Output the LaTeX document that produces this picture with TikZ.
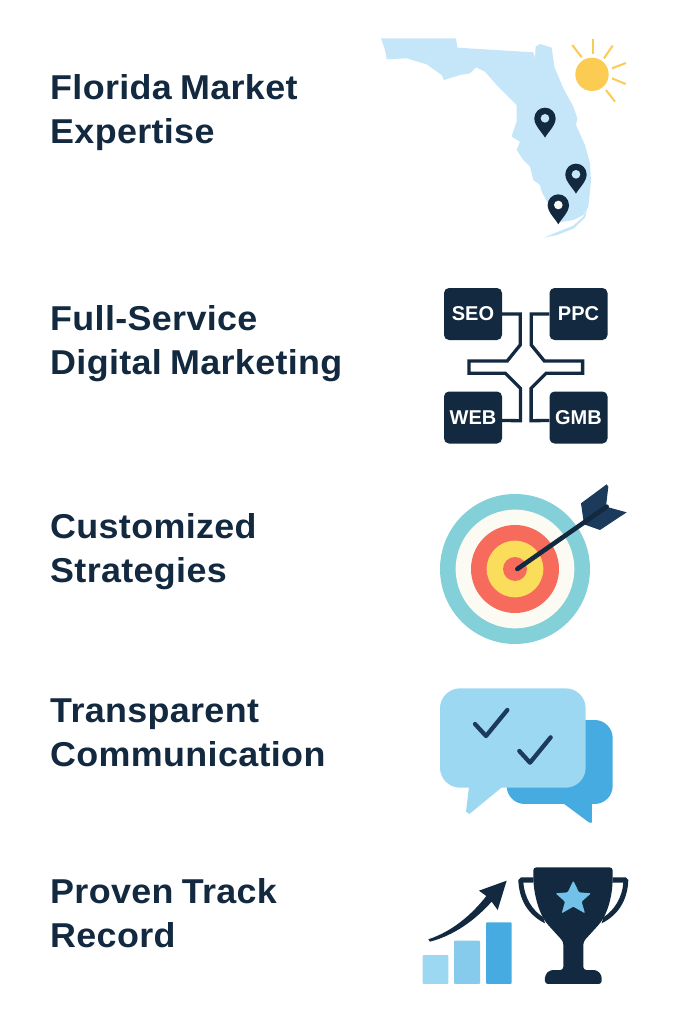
\documentclass[tikz,border=0pt]{standalone}
\usepackage{fontspec}
\setmainfont{Liberation Sans}
\newfontfamily\headfont[LetterSpace=1,FakeStretch=1.04,Kerning=On,WordSpace=0.8]{Liberation Sans}
\usepackage{xcolor}
\definecolor{navy}{HTML}{12293F}
\definecolor{shaft}{HTML}{1B3A5C}
\definecolor{mapblue}{HTML}{C5E6F8}
\definecolor{sunny}{HTML}{FBCB52}
\definecolor{skyone}{HTML}{9DD8F3}
\definecolor{skytwo}{HTML}{86CBEB}
\definecolor{skythree}{HTML}{45ABE0}
\definecolor{ringteal}{HTML}{84D0D8}
\definecolor{ringcream}{HTML}{FBFAF3}
\definecolor{ringred}{HTML}{F76B5C}
\definecolor{ringyellow}{HTML}{FBDD5C}
\tikzset{
  headline/.style={anchor=west, align=left, text=navy, font=\headfont\fontsize{34.5}{44}\selectfont\bfseries, inner sep=0pt},
  chip/.style={fill=navy, rounded corners=5pt, minimum width=58pt, minimum height=52pt, text=white, inner sep=0pt, font=\fontsize{20}{20}\selectfont\bfseries},
  wire/.style={draw=navy, line width=3.3pt},
  zoomed/.style={x=0.3333pt, y=-0.3333pt},
}
\begin{document}
\begin{tikzpicture}[x=1pt, y=-1pt]
\useasboundingbox[fill=white] (0,0) rectangle (683,1024);
%labels
\node[headline] (florida) at (50,112.5) {Florida Market\\Expertise};
\node[headline] (fullservice) at (50,343.5) {Full-Service\\Digital Marketing};
\node[headline] (custom) at (50,552) {Customized\\Strategies};
\node[headline] (transparent) at (50,732.5) {Transparent\\Communication};
\node[headline] (proven) at (50,913) {Proven Track\\Record};
%map
\begin{scope}[shift={(370,25)}, zoomed]
\fill[mapblue] (33,40) -- (258,40) -- (262,68) -- (490,82) -- (495,100) -- (497,65) -- (510,57) -- (545,68) -- (553,125) -- (580,190) -- (610,245) -- (622,280) -- (618,300) -- (645,360) -- (660,415) -- (663,470) -- (655,545) -- (640,570) -- (610,585) -- (570,592) -- (540,545) -- (515,500) -- (510,480) -- (490,465) -- (480,425) -- (460,405) -- (440,375) -- (450,350) -- (425,335) -- (430,318) -- (440,290) -- (440,240) -- (405,205) -- (380,180) -- (345,140) -- (318,127) -- (300,145) -- (270,150) -- (222,165) -- (215,150) -- (170,118) -- (110,100) -- (50,103) -- (45,75) -- cycle;
\fill[mapblue] (522,638) -- (560,622) -- (610,602) -- (640,575) -- (652,550) -- (645,578) -- (612,610) -- (562,630) -- cycle;
%sun
\fill[sunny] (666,148) circle (50);
\foreach \a/\b/\c/\d in {635/97/607/60, 668/87/668/42, 702/100/728/62, 726/130/768/114, 726/160/767/177, 708/195/735/230}
  \draw[sunny, line width=2pt] (\a,\b) -- (\c,\d);
%pins
\foreach \x/\y/\h in {525/280/mapblue, 618/448/mapblue, 565/540/ringcream} {
  \fill[navy] (\x-32,\y) arc (180:360:32) .. controls (\x+32,\y+22) and (\x+10,\y+40) .. (\x,\y+58) .. controls (\x-10,\y+40) and (\x-32,\y+22) .. (\x-32,\y) -- cycle;
  \fill[\h] (\x,\y) circle (13);
}
\end{scope}
%service chips
\node[chip] (seo) at (473,314) {SEO};
\node[chip] (ppc) at (578.5,314) {PPC};
\node[chip] (web) at (473,417.5) {WEB};
\node[chip] (gmb) at (578.5,417.5) {GMB};
\draw[wire] (seo.east) -- ++(18,0) -- ++(0,31) -- ++(-13,16) -- ++(-38.3,0) -- ++(0,12.3) -- ++(36.5,0) -- ++(15,15) -- ++(0,32.4) -- ([yshift=-3pt]web.east);
\draw[wire] (ppc.west) -- ++(-18,0) -- ++(0,31) -- ++(13,16) -- ++(38.3,0) -- ++(0,12.3) -- ++(-36.5,0) -- ++(-15,15) -- ++(0,32.4) -- ([yshift=-3pt]gmb.west);
%target
\begin{scope}[shift={(430,475)}, zoomed]
\fill[ringteal] (255,282) circle (225);
\fill[ringcream] (255,282) circle (178);
\fill[ringred] (255,282) circle (132);
\fill[ringyellow] (255,282) circle (85);
\fill[ringred] (255,282) circle (36);
\fill[shaft] (453,85) -- (530,28) -- (535,35) -- (528,95) -- (590,112) -- (510,165) -- (462,148) -- cycle;
\draw[navy, line width=4.6pt, line cap=round] (262,282) -- (530,95);
\end{scope}
%chat
\begin{scope}[shift={(430,680)}, zoomed]
\fill[skythree, rounded corners=18pt] (230,120) rectangle (548,372);
\fill[skythree] (400,370) -- (478,428) -- (486,428) -- (486,370) -- cycle;
\fill[skyone, rounded corners=20pt] (30,25) rectangle (467,323);
\fill[skyone] (117,320) -- (108,395) -- (118,402) -- (218,320) -- cycle;
\draw[shaft, line width=4.3pt, line cap=round, line join=round] (135,132) -- (168,168) -- (232,90);
\draw[shaft, line width=4.3pt, line cap=round, line join=round] (268,213) -- (300,248) -- (362,172);
\end{scope}
%chart and trophy
\begin{scope}[shift={(415,860)}, zoomed]
\fill[skyone, rounded corners=1pt] (23,285) rectangle (100,372);
\fill[skytwo, rounded corners=1pt] (117,242) rectangle (195,372);
\fill[skythree, rounded corners=1pt] (213,187) rectangle (290,372);
\fill[navy] (40,238) .. controls (110,215) and (170,165) .. (214,108) -- (192,92) -- (275,62) -- (248,150) -- (230,125) .. controls (180,180) and (120,225) .. (45,245) -- cycle;
\fill[navy, rounded corners=3pt] (355,22) -- (593,22) -- (593,60) .. controls (590,120) and (575,160) .. (555,190) -- (505,245) -- (505,330) -- (545,330) -- (560,345) -- (560,372) -- (390,372) -- (390,345) -- (405,330) -- (445,330) -- (445,245) -- (395,190) .. controls (375,160) and (360,120) .. (355,60) -- cycle;
\fill[navy] (355,52) -- (318,52) -- (310,60) .. controls (312,120) and (340,165) .. (390,190) -- (385,172) .. controls (350,150) and (328,110) .. (325,68) -- (355,68) -- cycle;
\fill[navy] (593,52) -- (632,52) -- (640,60) .. controls (638,120) and (610,165) .. (560,190) -- (565,172) .. controls (600,150) and (622,110) .. (625,68) -- (593,68) -- cycle;
\fill[skytwo!70!skythree, rounded corners=1pt] (475,62) -- (492,97) -- (528,100) -- (500,125) -- (510,160) -- (475,140) -- (440,160) -- (450,125) -- (422,100) -- (458,97) -- cycle;
\end{scope}
\end{tikzpicture}
\end{document}
